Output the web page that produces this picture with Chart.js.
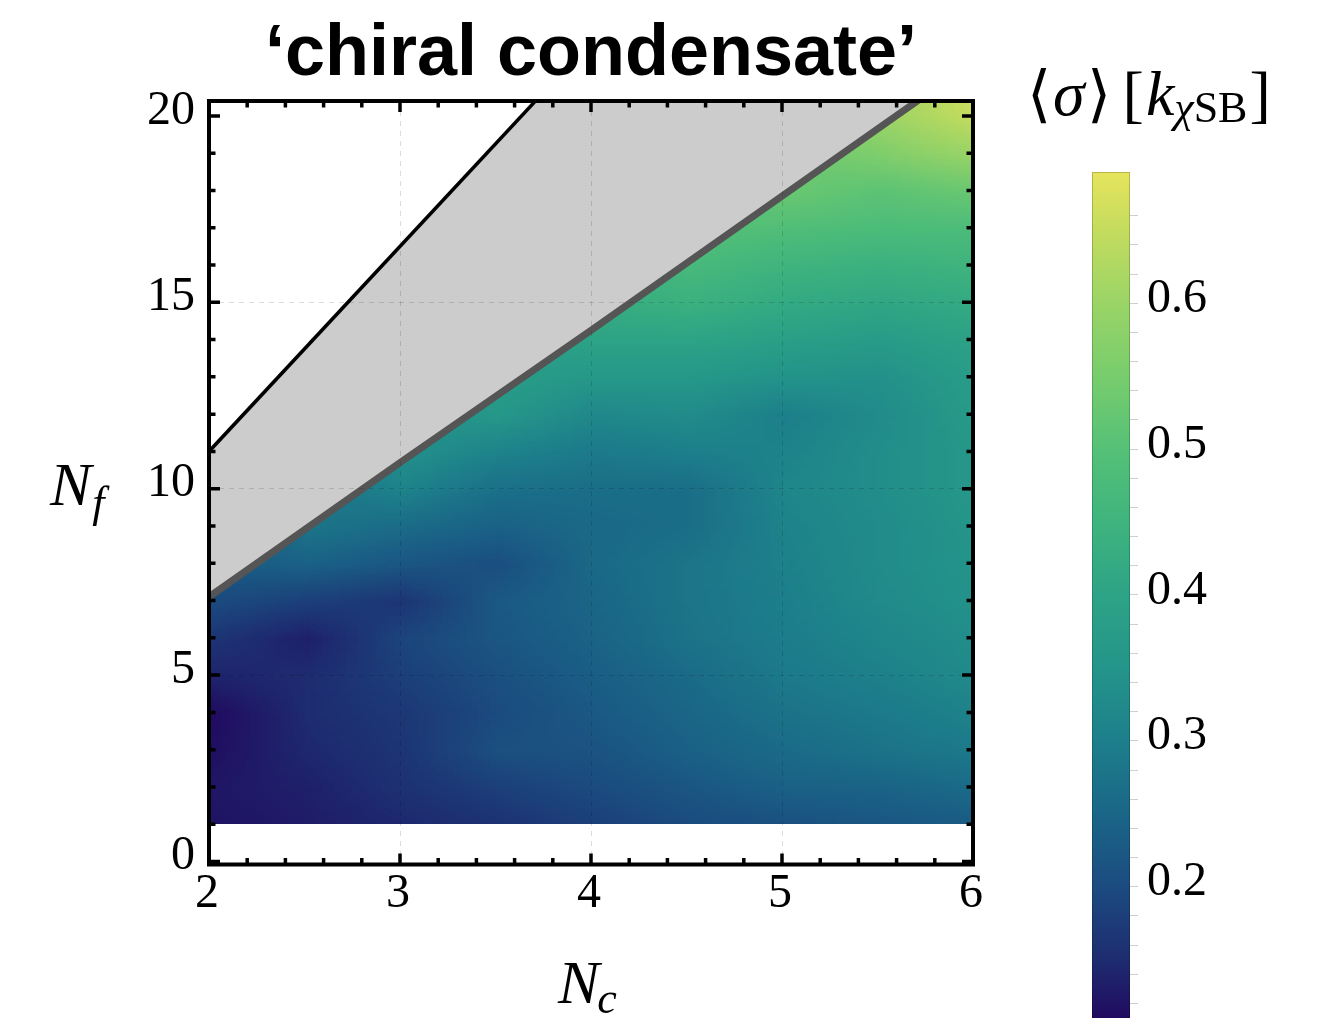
<!DOCTYPE html>
<html>
<head>
<meta charset="utf-8">
<script src="https://cdn.jsdelivr.net/npm/chart.js@4/dist/chart.umd.min.js"></script>
<style>
  html, body { margin: 0; padding: 0; background: #fff; overflow: hidden; }
  #main { position: absolute; left: 0; top: 0; }
  #bar { position: absolute; left: 1000px; top: 0; }
</style>
</head>
<body>
<canvas id="main" width="1000" height="1018"></canvas>
<canvas id="bar" width="317" height="1018"></canvas>
<script>
// grid of the condensate: one column per N_c, entries run over N_f = 1, 2, ...
// columns stop just past the edge of the broken phase
const ncValues = [2, 2.5, 3, 3.5, 4, 4.5, 5, 5.5, 6];
const nfValues = [1, 2, 3, 4, 5, 6, 7, 8, 9, 10, 11, 12, 13, 14, 15, 16, 17, 18, 19, 20, 21];

const sigmaNc2   = [0.12, 0.125, 0.115, 0.11, 0.14, 0.165, 0.2, 0.23];
const sigmaNc2p5 = [0.13, 0.135, 0.145, 0.15, 0.15, 0.135, 0.18, 0.24, 0.28];
const sigmaNc3   = [0.145, 0.16, 0.165, 0.17, 0.18, 0.19, 0.165, 0.22, 0.26, 0.31, 0.34];
const sigmaNc3p5 = [0.16, 0.18, 0.21, 0.2, 0.21, 0.22, 0.225, 0.205, 0.24, 0.27, 0.31, 0.36, 0.38];
const sigmaNc4   = [0.18, 0.2, 0.215, 0.225, 0.235, 0.245, 0.25, 0.255, 0.255, 0.265, 0.29, 0.32, 0.36, 0.4, 0.43];
const sigmaNc4p5 = [0.2, 0.22, 0.24, 0.25, 0.26, 0.275, 0.28, 0.28, 0.265, 0.265, 0.3, 0.33, 0.36, 0.4, 0.44, 0.47, 0.5];
const sigmaNc5   = [0.21, 0.24, 0.26, 0.275, 0.29, 0.295, 0.3, 0.305, 0.31, 0.315, 0.31, 0.3, 0.345, 0.385, 0.42, 0.45, 0.49, 0.53];
const sigmaNc5p5 = [0.22, 0.245, 0.275, 0.29, 0.305, 0.315, 0.325, 0.33, 0.33, 0.335, 0.335, 0.33, 0.34, 0.37, 0.41, 0.44, 0.48, 0.51, 0.56, 0.6];
const sigmaNc6   = [0.23, 0.26, 0.29, 0.31, 0.325, 0.335, 0.345, 0.35, 0.355, 0.36, 0.36, 0.37, 0.38, 0.395, 0.42, 0.45, 0.48, 0.53, 0.6, 0.65, 0.68];
const sigmaColumns = [sigmaNc2, sigmaNc2p5, sigmaNc3, sigmaNc3p5, sigmaNc4, sigmaNc4p5, sigmaNc5, sigmaNc5p5, sigmaNc6];

// lower edge of the conformal window and the loss of asymptotic freedom
const lowerEdgeNc = [2, 3, 4, 5, 6];
const lowerEdgeNf = [7.1, 10.7, 14.25, 17.85, 21.45];
const upperEdgeNc = [2, 6];
const upperEdgeNf = [11, 33];

const xTickValues = [2, 3, 4, 5, 6];
const yTickValues = [0, 5, 10, 15, 20];
const barTickValues = [0.2, 0.3, 0.4, 0.5, 0.6];
const sigmaMin = 0.11;
const sigmaMax = 0.69;

// colour map
const paletteAt = [0.11, 0.15, 0.2, 0.25, 0.3, 0.35, 0.4, 0.45, 0.5, 0.55, 0.6, 0.65, 0.69];
const paletteHex = ['#210b60', '#1e2c70', '#1b4b80', '#1a6687', '#1d7f8b', '#24958a', '#2da386',
                    '#3fb47e', '#55c177', '#78cd6d', '#9ad466', '#c4dc5e', '#e6e45d'];

const SERIF = "'Liberation Serif', 'Times New Roman', serif";
const SANS = "'Liberation Sans', Arial, sans-serif";

const hexToRgb = (h) => [1, 3, 5].map(i => parseInt(h.slice(i, i + 2), 16));
const paletteRgb = paletteHex.map(hexToRgb);

function colorFor(v) {
  if (v <= paletteAt[0]) return paletteRgb[0];
  for (let i = 1; i < paletteAt.length; i++) {
    if (v <= paletteAt[i]) {
      const t = (v - paletteAt[i - 1]) / (paletteAt[i] - paletteAt[i - 1]);
      const a = paletteRgb[i - 1], b = paletteRgb[i];
      return a.map((c, k) => Math.round(c + (b[k] - c) * t));
    }
  }
  return paletteRgb[paletteRgb.length - 1];
}

function drawRuns(ctx, x, y, runs) {
  ctx.textBaseline = 'alphabetic';
  ctx.textAlign = 'left';
  runs.forEach(r => {
    ctx.font = r.font;
    ctx.fillText(r.text, x + (r.dx || 0), y + (r.dy || 0));
    x += (r.dx || 0) + ctx.measureText(r.text).width;
  });
}

// keep the plot area where the layout puts it, labels may hang over
const noScalePadding = (s) => {
  s.paddingTop = 0;
  s.paddingBottom = 0;
  s.paddingLeft = 0;
  s.paddingRight = 0;
};

const heatmap = {
  id: 'heatmap',
  beforeDatasetsDraw(chart) {
    const { ctx, chartArea: a, scales: { x, y } } = chart;
    const cols = ncValues.length, rows = nfValues.length;
    const off = document.createElement('canvas');
    off.width = cols;
    off.height = rows;
    const octx = off.getContext('2d');
    const img = octx.createImageData(cols, rows);
    sigmaColumns.forEach((col, i) => {
      let last = col[0];
      for (let j = 0; j < rows; j++) {
        // past the edge keep the last value, it is clipped away below
        const v = col[j] ?? last;
        last = v;
        const rgb = colorFor(v);
        const k = ((rows - 1 - j) * cols + i) * 4;
        img.data[k] = rgb[0];
        img.data[k + 1] = rgb[1];
        img.data[k + 2] = rgb[2];
        img.data[k + 3] = 255;
      }
    });
    octx.putImageData(img, 0, 0);

    ctx.save();
    ctx.beginPath();
    ctx.rect(a.left, a.top, a.width, a.height);
    ctx.clip();
    ctx.beginPath();
    ctx.moveTo(x.getPixelForValue(lowerEdgeNc[0]), y.getPixelForValue(nfValues[0]));
    lowerEdgeNc.forEach((nc, i) => ctx.lineTo(x.getPixelForValue(nc), y.getPixelForValue(lowerEdgeNf[i])));
    ctx.lineTo(x.getPixelForValue(lowerEdgeNc[lowerEdgeNc.length - 1]), y.getPixelForValue(nfValues[0]));
    ctx.closePath();
    ctx.clip();
    ctx.imageSmoothingEnabled = true;
    ctx.imageSmoothingQuality = 'low';
    const x0 = x.getPixelForValue(ncValues[0]);
    const x1 = x.getPixelForValue(ncValues[cols - 1]);
    const yTop = y.getPixelForValue(nfValues[rows - 1]);
    const yBot = y.getPixelForValue(nfValues[0]);
    ctx.drawImage(off, 0.5, 0.5, cols - 1, rows - 1, x0, yTop, x1 - x0, yBot - yTop);
    ctx.restore();
  }
};

const frame = {
  id: 'frame',
  afterDraw(chart) {
    const { ctx, chartArea: a, scales: { x, y } } = chart;
    ctx.save();
    ctx.strokeStyle = '#000';
    ctx.lineWidth = 3.5;
    ctx.beginPath();
    for (let i = 0; i <= 20; i++) {
      const px = x.getPixelForValue(2 + i * 0.2);
      const len = i % 5 === 0 ? 11 : 6.5;
      ctx.moveTo(px, a.bottom); ctx.lineTo(px, a.bottom - len);
      ctx.moveTo(px, a.top); ctx.lineTo(px, a.top + len);
    }
    for (let v = 0; v <= 20; v++) {
      const py = y.getPixelForValue(v);
      const len = v % 5 === 0 ? 11 : 6.5;
      ctx.moveTo(a.left, py); ctx.lineTo(a.left + len, py);
      ctx.moveTo(a.right, py); ctx.lineTo(a.right - len, py);
    }
    ctx.stroke();
    ctx.lineWidth = 4;
    ctx.strokeRect(a.left, a.top, a.width, a.height);

    // title and axis labels
    ctx.fillStyle = '#000';
    ctx.font = 'bold 72px ' + SANS;
    ctx.textAlign = 'center';
    ctx.textBaseline = 'alphabetic';
    ctx.fillText('\u2018chiral condensate\u2019', (a.left + a.right) / 2, 75);
    drawRuns(ctx, 50, 505, [
      { text: 'N', font: 'italic 62px ' + SERIF },
      { text: 'f', font: 'italic 44px ' + SERIF, dy: 12, dx: 1 }
    ]);
    drawRuns(ctx, 558, 1003, [
      { text: 'N', font: 'italic 62px ' + SERIF },
      { text: 'c', font: 'italic 44px ' + SERIF, dy: 10, dx: -2 }
    ]);
    ctx.restore();
  }
};

const gridStyle = (hideAt) => ({
  color: (c) => (c.tick && hideAt.includes(c.tick.value)) ? 'rgba(0,0,0,0)' : 'rgba(0,0,0,0.14)',
  lineWidth: 1,
  drawTicks: false,
  z: 1
});

new Chart(document.getElementById('main'), {
  type: 'line',
  data: {
    datasets: [
      {
        data: upperEdgeNc.map((nc, i) => ({ x: nc, y: upperEdgeNf[i] })),
        borderColor: '#000000',
        borderWidth: 3.5,
        pointRadius: 0,
        fill: '+1',
        backgroundColor: '#cccccc'
      },
      {
        data: lowerEdgeNc.map((nc, i) => ({ x: nc, y: lowerEdgeNf[i] })),
        borderColor: '#555555',
        borderWidth: 7,
        pointRadius: 0,
        fill: false
      }
    ]
  },
  options: {
    responsive: false,
    animation: false,
    events: [],
    layout: { padding: { top: 101, right: 27, bottom: 0, left: 0 } },
    plugins: {
      legend: { display: false },
      title: { display: false },
      tooltip: { enabled: false },
      filler: { drawTime: 'beforeDatasetsDraw' }
    },
    scales: {
      x: {
        type: 'linear',
        min: 2,
        max: 6,
        afterFit: (s) => { s.height = 153.5; noScalePadding(s); },
        afterBuildTicks: (s) => { s.ticks = xTickValues.map(v => ({ value: v })); },
        grid: gridStyle([2, 6]),
        border: { display: false, dash: [5, 5] },
        ticks: {
          color: '#000',
          padding: 1,
          labelOffset: -2,
          maxRotation: 0,
          autoSkip: false,
          font: { family: SERIF, size: 48 }
        }
      },
      y: {
        type: 'linear',
        min: -0.08,
        max: 20.4,
        afterFit: (s) => { s.width = 209; noScalePadding(s); },
        afterBuildTicks: (s) => { s.ticks = yTickValues.map(v => ({ value: v })); },
        grid: gridStyle([0, 20]),
        border: { display: false, dash: [5, 5] },
        ticks: {
          color: '#000',
          padding: 14,
          labelOffset: -5,
          autoSkip: false,
          font: { family: SERIF, size: 48 }
        }
      }
    }
  },
  plugins: [heatmap, frame]
});

// colour bar
const barGradient = {
  id: 'barGradient',
  beforeDatasetsDraw(chart) {
    const { ctx, chartArea: a, scales: { y } } = chart;
    const y0 = y.getPixelForValue(sigmaMin), y1 = y.getPixelForValue(sigmaMax);
    const g = ctx.createLinearGradient(0, y0, 0, y1);
    paletteAt.forEach((v, i) => g.addColorStop((v - sigmaMin) / (sigmaMax - sigmaMin), paletteHex[i]));
    ctx.save();
    ctx.fillStyle = g;
    ctx.fillRect(a.left, a.top, a.width, a.height);
    ctx.strokeStyle = 'rgba(0,0,0,0.2)';
    ctx.lineWidth = 1;
    ctx.strokeRect(a.left + 0.5, a.top + 0.5, a.width - 1, a.height);
    ctx.restore();
  },
  afterDraw(chart) {
    const { ctx } = chart;
    ctx.save();
    ctx.fillStyle = '#000';
    drawRuns(ctx, 27, 115, [
      { text: '\u27e8', font: '62px ' + SERIF },
      { text: '\u03c3', font: 'italic 64px ' + SERIF, dx: 2 },
      { text: '\u27e9', font: '62px ' + SERIF, dx: 2 },
      { text: '[', font: '64px ' + SERIF, dx: 12 },
      { text: 'k', font: 'italic 64px ' + SERIF, dx: 2 },
      { text: '\u03c7', font: 'italic 44px ' + SERIF, dy: 7 },
      { text: 'SB', font: '44px ' + SERIF, dy: 7 },
      { text: ']', font: '64px ' + SERIF, dx: 2 }
    ]);
    ctx.restore();
  }
};

const barTicks = [];
for (let i = 1; i <= 28; i++) barTicks.push(sigmaMin - 0.01 + i * 0.02);

new Chart(document.getElementById('bar'), {
  type: 'line',
  data: { datasets: [] },
  options: {
    responsive: false,
    animation: false,
    events: [],
    layout: { padding: { top: 172, right: 0, bottom: 0, left: 92 } },
    plugins: { legend: { display: false }, tooltip: { enabled: false } },
    scales: {
      x: { type: 'linear', display: false, min: 0, max: 1 },
      y: {
        type: 'linear',
        position: 'right',
        min: sigmaMin,
        max: sigmaMax,
        afterFit: (s) => { s.width = 187; noScalePadding(s); },
        afterBuildTicks: (s) => { s.ticks = barTicks.map(v => ({ value: v })); },
        grid: {
          drawOnChartArea: false,
          drawTicks: true,
          tickLength: 8,
          tickWidth: 1,
          tickColor: '#cfcfcf'
        },
        border: { display: false },
        ticks: {
          color: '#000',
          padding: 9,
          labelOffset: -4,
          autoSkip: false,
          font: { family: SERIF, size: 48 },
          callback: (v) => barTickValues.some(t => Math.abs(t - v) < 1e-6) ? v.toFixed(1) : ''
        }
      }
    }
  },
  plugins: [barGradient]
});
</script>
</body>
</html>
